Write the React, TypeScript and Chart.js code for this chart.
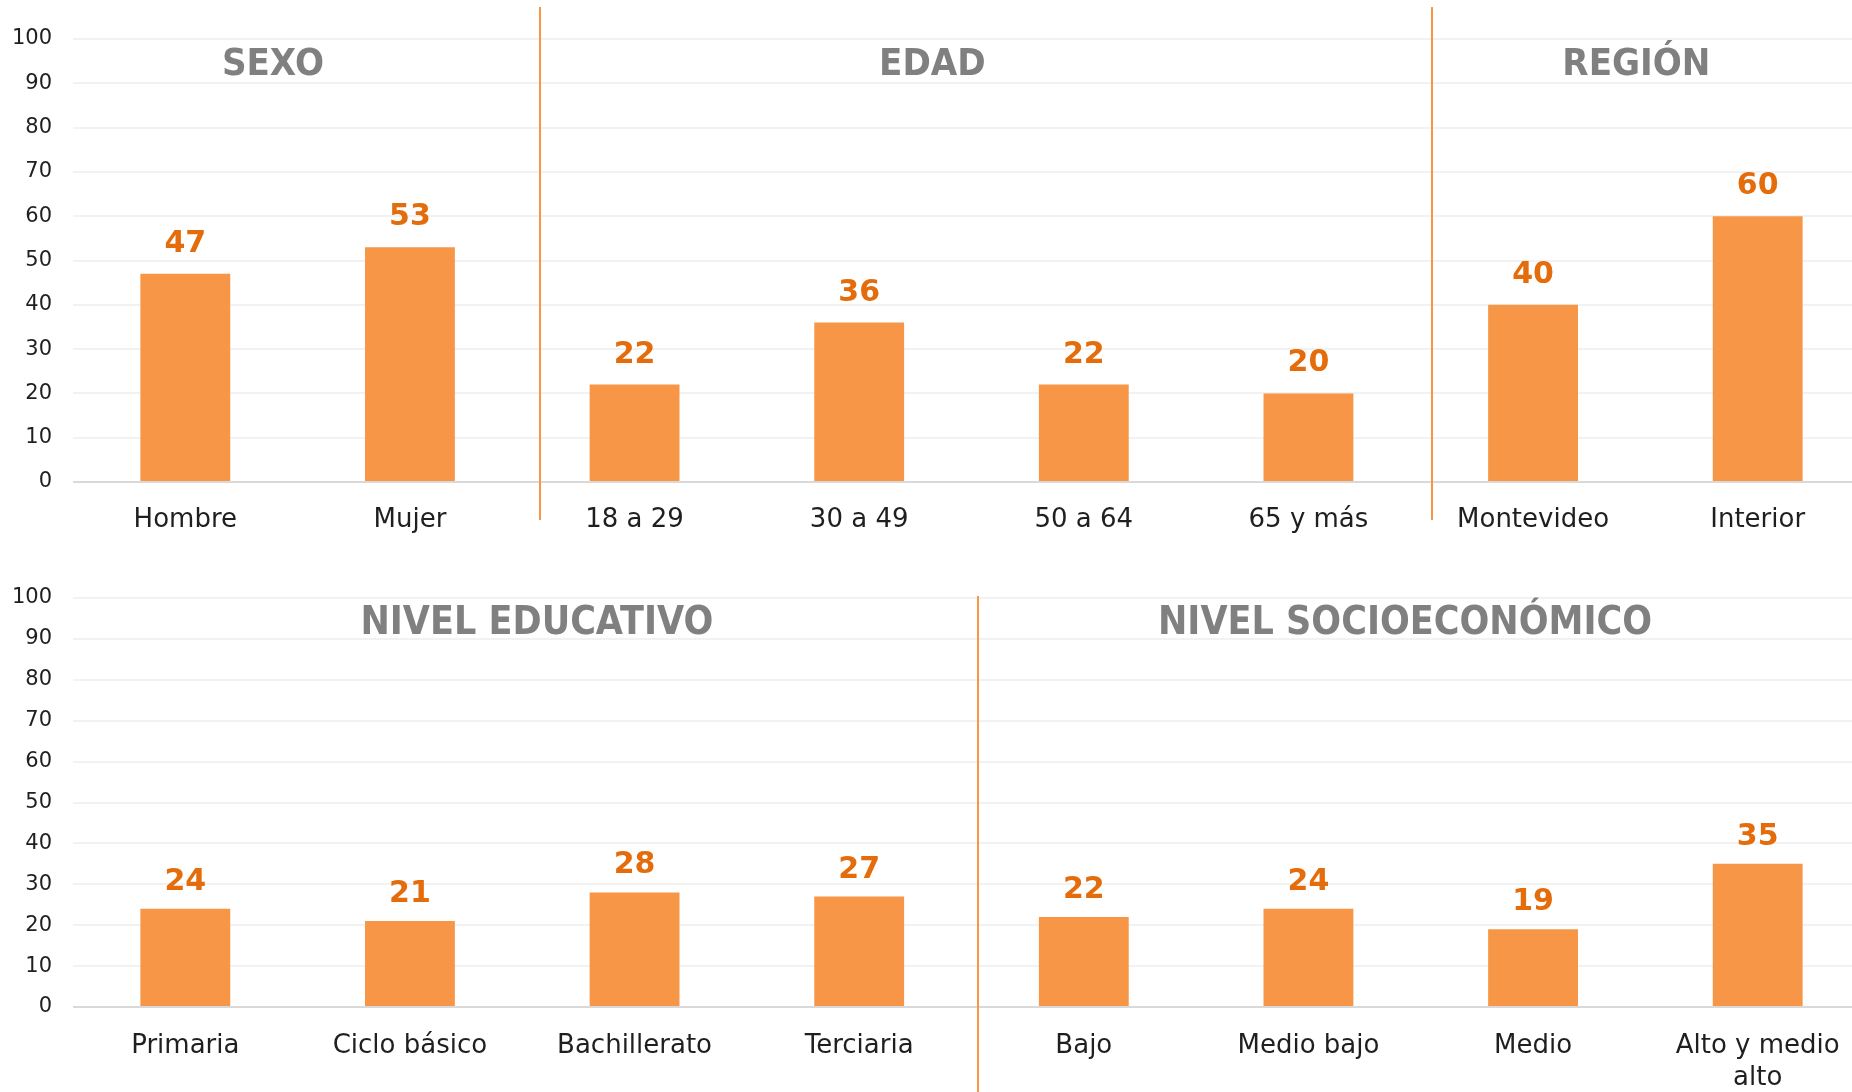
import React, { useEffect, useRef } from "react";
import { Chart, registerables } from "chart.js";

Chart.register(...registerables);

// ---- Data ----
const topCategories: (string | string[])[] = ["Hombre", "Mujer", "18 a 29", "30 a 49", "50 a 64", "65 y más", "Montevideo", "Interior"];
const topValues = [47, 53, 22, 36, 22, 20, 40, 60];
const topGroups = ["SEXO", "EDAD", "REGIÓN"];

const bottomCategories: (string | string[])[] = ["Primaria", "Ciclo básico", "Bachillerato", "Terciaria", "Bajo", "Medio bajo", "Medio", ["Alto y medio", "alto"]];
const bottomValues = [24, 21, 28, 27, 22, 24, 19, 35];
const bottomGroups = ["NIVEL EDUCATIVO", "NIVEL SOCIOECONÓMICO"];

const yMin = 0;
const yMax = 100;
const yStep = 10;

// ---- Layout (category-index positions for group titles and separators) ----
const topGroupPos = [0.39, 3.326, 6.46];
const topSeparatorPos = [1.58, 5.55];
const bottomGroupPos = [1.565, 5.43];
const bottomSeparatorPos = [3.53];

const BAR = "#F79646";
const LABEL = "#E46C0A";
const TITLE = "#808080";

interface PanelCfg {
  categories: (string | string[])[];
  values: number[];
  groups: string[];
  groupPos: number[];
  sepPos: number[];
  padTop: number;
  axisH: number;
  labelGap: number;
  tickPad: number;
  titleBaseline: number;
  titleSize: number;
  sepTop: number;
  sepBottom: number;
}

function makeChart(canvas: HTMLCanvasElement, cfg: PanelCfg) {
  const overlay = {
    id: "overlay",
    afterDatasetsDraw(chart: any) {
      const ctx = chart.ctx as CanvasRenderingContext2D;
      const meta = chart.getDatasetMeta(0);
      ctx.save();
      ctx.fillStyle = LABEL;
      ctx.font = "bold 30px 'DejaVu Sans'";
      ctx.textAlign = "center";
      ctx.textBaseline = "alphabetic";
      meta.data.forEach((bar: any, i: number) => {
        ctx.fillText(String(cfg.values[i]), bar.x, bar.y - cfg.labelGap);
      });
      ctx.restore();
    },
    afterDraw(chart: any) {
      const ctx = chart.ctx as CanvasRenderingContext2D;
      const xs = chart.scales.x;
      ctx.save();
      ctx.strokeStyle = BAR;
      ctx.lineWidth = 2;
      cfg.sepPos.forEach((p) => {
        const x = Math.round(xs.getPixelForValue(p));
        ctx.beginPath();
        ctx.moveTo(x, cfg.sepTop);
        ctx.lineTo(x, cfg.sepBottom);
        ctx.stroke();
      });
      ctx.fillStyle = TITLE;
      ctx.font = `bold ${cfg.titleSize}px 'DejaVu Sans Condensed'`;
      ctx.textAlign = "center";
      ctx.textBaseline = "alphabetic";
      cfg.groups.forEach((g, i) => {
        ctx.fillText(g, xs.getPixelForValue(cfg.groupPos[i]), cfg.titleBaseline);
      });
      ctx.restore();
    },
  };

  return new Chart(canvas, {
    type: "bar",
    data: {
      labels: cfg.categories as any,
      datasets: [
        {
          data: cfg.values,
          backgroundColor: BAR,
          borderWidth: 0,
          barPercentage: 0.4,
          categoryPercentage: 1,
        },
      ],
    },
    options: {
      responsive: false,
      animation: false,
      devicePixelRatio: 1,
      layout: { padding: { top: cfg.padTop, left: 0, right: 0, bottom: 0 } },
      plugins: { legend: { display: false }, tooltip: { enabled: false }, title: { display: false } },
      scales: {
        x: {
          grid: { display: false },
          border: { display: false },
          ticks: {
            color: "#1F1F1F",
            font: { family: "'DejaVu Sans'", size: 26, lineHeight: 1.2 },
            padding: cfg.tickPad,
            maxRotation: 0,
            minRotation: 0,
            autoSkip: false,
          },
          afterFit(s: any) {
            s.height = cfg.axisH;
          },
        },
        y: {
          min: yMin,
          max: yMax,
          grid: {
            drawTicks: false,
            color: (c: any) => (c.tick && c.tick.value === 0 ? "#D9D9D9" : "#F2F2F2"),
            lineWidth: 2,
          },
          border: { display: false },
          ticks: {
            stepSize: yStep,
            color: "#1F1F1F",
            font: { family: "'DejaVu Sans'", size: 21 },
            padding: 21,
          },
          afterFit(s: any) {
            s.width = 73;
          },
        },
      },
    },
    plugins: [overlay],
  });
}

export default function App() {
  const topRef = useRef<HTMLCanvasElement>(null);
  const botRef = useRef<HTMLCanvasElement>(null);

  useEffect(() => {
    const c1 = makeChart(topRef.current!, {
      categories: topCategories,
      values: topValues,
      groups: topGroups,
      groupPos: topGroupPos,
      sepPos: topSeparatorPos,
      padTop: 39,
      axisH: 63,
      labelGap: 22,
      tickPad: 15,
      titleBaseline: 75,
      titleSize: 38,
      sepTop: 7,
      sepBottom: 520,
    });
    const c2 = makeChart(botRef.current!, {
      categories: bottomCategories,
      values: bottomValues,
      groups: bottomGroups,
      groupPos: bottomGroupPos,
      sepPos: bottomSeparatorPos,
      padTop: 38,
      axisH: 85,
      labelGap: 19,
      tickPad: 16,
      titleBaseline: 74,
      titleSize: 39,
      sepTop: 36,
      sepBottom: 532,
    });
    return () => {
      c1.destroy();
      c2.destroy();
    };
  }, []);

  return (
    <div style={{ position: "absolute", left: 0, top: 0, width: 1852, height: 1092, overflow: "hidden", background: "#fff" }}>
      <canvas ref={topRef} width={1870} height={545} style={{ position: "absolute", left: 0, top: 0, display: "block" }} />
      <canvas ref={botRef} width={1870} height={532} style={{ position: "absolute", left: 0, top: 560, display: "block" }} />
    </div>
  );
}
